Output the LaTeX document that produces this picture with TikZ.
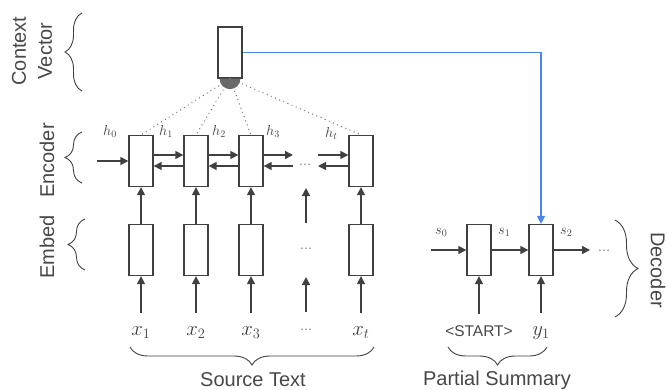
\documentclass[tikz,border=0pt]{standalone}
\usepackage{fontspec}
\setmainfont{Liberation Sans}
\usetikzlibrary{arrows.meta,decorations.pathreplacing}

\definecolor{ink}{HTML}{404040}
\definecolor{txt}{HTML}{474747}
\definecolor{dotgray}{HTML}{777777}
\definecolor{link}{HTML}{4A86E8}
\definecolor{blob}{HTML}{6A6A6A}

\begin{document}
\begin{tikzpicture}[
  x=1pt, y=-1pt,
  cell/.style={draw=ink, line width=1.3pt, fill=white, minimum width=24pt, minimum height=51pt, inner sep=0pt},
  flow/.style={draw=ink, line width=1.5pt, -{Triangle[length=8pt,width=8pt]}},
  hid/.style={draw=dotgray, line width=1.4pt, dash pattern=on 0pt off 4.5pt, line cap=round},
  tag/.style={font=\fontsize{14}{16}\selectfont, text=ink, inner sep=0pt, anchor=base west},
  sym/.style={font=\fontsize{21}{24}\selectfont, text=ink, inner sep=0pt, anchor=base, text height=10pt, text depth=4pt},
  starttag/.style={font=\fontsize{15.5}{18}\selectfont, text=txt, inner sep=0pt, anchor=base, text height=10pt, text depth=4pt},
  ell/.style={font=\fontsize{13}{14}\selectfont, text=dotgray, inner sep=0pt},
  side/.style={font=\fontsize{20}{26}\selectfont, text=txt, align=center, inner sep=0pt},
  curly/.style={draw=ink, line width=0.9pt, decorate, decoration={brace, amplitude=#1}},
]
\useasboundingbox (0,0) rectangle (668,389);

% ---- context vector ----
\node[cell] (ctx) at (230,52.5) {};

% ---- encoder cells ----
\node[cell] (e1) at (141,161) {};
\node[cell] (e2) at (196,161) {};
\node[cell] (e3) at (251,161) {};
\node[cell] (et) at (361,161) {};

% ---- embedding cells ----
\node[cell] (m1) at (141,250) {};
\node[cell] (m2) at (196,250) {};
\node[cell] (m3) at (251,250) {};
\node[cell] (mt) at (361,250) {};
\node[ell] (embdots) at (306,249) {…};

% ---- decoder cells ----
\node[cell] (d1) at (479,250) {};
\node[cell] (d2) at (541,250) {};

% ---- attention links from encoder states to the context vector ----
\draw[hid] (ctx.south) -- (e1.north);
\draw[hid] (ctx.south) -- (e2.north);
\draw[hid] (ctx.south) -- (e3.north);
\draw[hid] (ctx.south) -- (et.north);
\fill[blob] ([xshift=-10.5pt]ctx.south) arc[start angle=180, end angle=360, radius=10.5pt] -- cycle;

% ---- hidden state labels ----
\node[tag] (h0) at (103,135) {$h_0$};
\node[tag] (h1) at (159,135) {$h_1$};
\node[tag] (h2) at (212,135) {$h_2$};
\node[tag] (h3) at (266,135) {$h_3$};
\node[tag] (ht) at (325,137) {$h_t$};

% ---- bidirectional encoder links ----
\coordinate (h0in) at (97,161);
\draw[flow] (h0in) -- (e1);
\draw[flow] ([yshift=6pt]e1.east) -- ([yshift=6pt]e2.west);
\draw[flow] ([yshift=-5pt]e2.west) -- ([yshift=-5pt]e1.east);
\draw[flow] ([yshift=6pt]e2.east) -- ([yshift=6pt]e3.west);
\draw[flow] ([yshift=-5pt]e3.west) -- ([yshift=-5pt]e2.east);
\coordinate (fwdend) at (293,155);
\coordinate (bwdstart) at (293,166);
\coordinate (fwdstart) at (318,155);
\coordinate (bwdend) at (318,166);
\draw[flow] ([yshift=6pt]e3.east) -- (fwdend);
\draw[flow] (bwdstart) -- ([yshift=-5pt]e3.east);
\draw[flow] (fwdstart) -- ([yshift=6pt]et.west);
\draw[flow] ([yshift=-5pt]et.west) -- (bwdend);
\node[ell] (encdots) at (305,165) {…};

% ---- embed to encoder ----
\draw[flow] (m1) -- (e1);
\draw[flow] (m2) -- (e2);
\draw[flow] (m3) -- (e3);
\draw[flow] (mt) -- (et);
\coordinate (gapin) at (306,223);
\coordinate (gapout) at (306,188);
\draw[flow] (gapin) -- (gapout);

% ---- source tokens ----
\node[sym] (x1) at (141,335) {$x_1$};
\node[sym] (x2) at (196,335) {$x_2$};
\node[sym] (x3) at (251,335) {$x_3$};
\node[sym] (xt) at (361,335) {$x_t$};
\node[ell] (srcdots) at (306,330) {…};
\draw[flow, shorten <=12pt] (x1) -- (m1);
\draw[flow, shorten <=12pt] (x2) -- (m2);
\draw[flow, shorten <=12pt] (x3) -- (m3);
\draw[flow, shorten <=12pt] (xt) -- (mt);
\coordinate (srcin) at (306,312);
\coordinate (srcout) at (306,277);
\draw[flow] (srcin) -- (srcout);

% ---- decoder ----
\coordinate (s0in) at (431,250);
\coordinate (decout) at (590,250);
\draw[flow] (s0in) -- (d1);
\draw[flow] (d1) -- (d2);
\draw[flow] (d2) -- (decout);
\node[ell] (decdots) at (604,251) {…};
\node[tag] (s0) at (435,234) {$s_0$};
\node[tag] (s1) at (498,234) {$s_1$};
\node[tag] (s2) at (560,234) {$s_2$};

\node[starttag] (start) at (479,336) {<START>};
\node[sym] (y1) at (541,335) {$y_1$};
\draw[flow, shorten <=12pt] (start) -- (d1);
\draw[flow, shorten <=12pt] (y1) -- (d2);

% ---- context vector feeds the decoder ----
\draw[draw=link, line width=1.5pt, -{Triangle[length=8pt,width=8pt]}] (ctx.east) -| (d2.north);

% ---- braces and group labels ----
\draw[curly=17pt] (82,91) -- (82,13);
\draw[curly=17pt] (82,183) -- (82,132);
\draw[curly=17pt] (85,270) -- (85,219);
\draw[curly=18pt] (374,347) -- (130,347);
\draw[curly=18pt] (547,347) -- (448,347);
\draw[curly=23pt] (615,220) -- (615,317);

\node[side, rotate=90] (ctxlbl) at (32,51) {Context\\Vector};
\node[side, rotate=90] (enclbl) at (47,160.5) {Encoder};
\node[side, rotate=90] (emblbl) at (47,247) {Embed};
\node[side, rotate=-90] (declbl) at (658,270) {Decoder};
\node[side, anchor=base] (srclbl) at (253,386) {Source Text};
\node[side, anchor=base] (sumlbl) at (497,385.5) {Partial Summary};
\end{tikzpicture}
\end{document}
